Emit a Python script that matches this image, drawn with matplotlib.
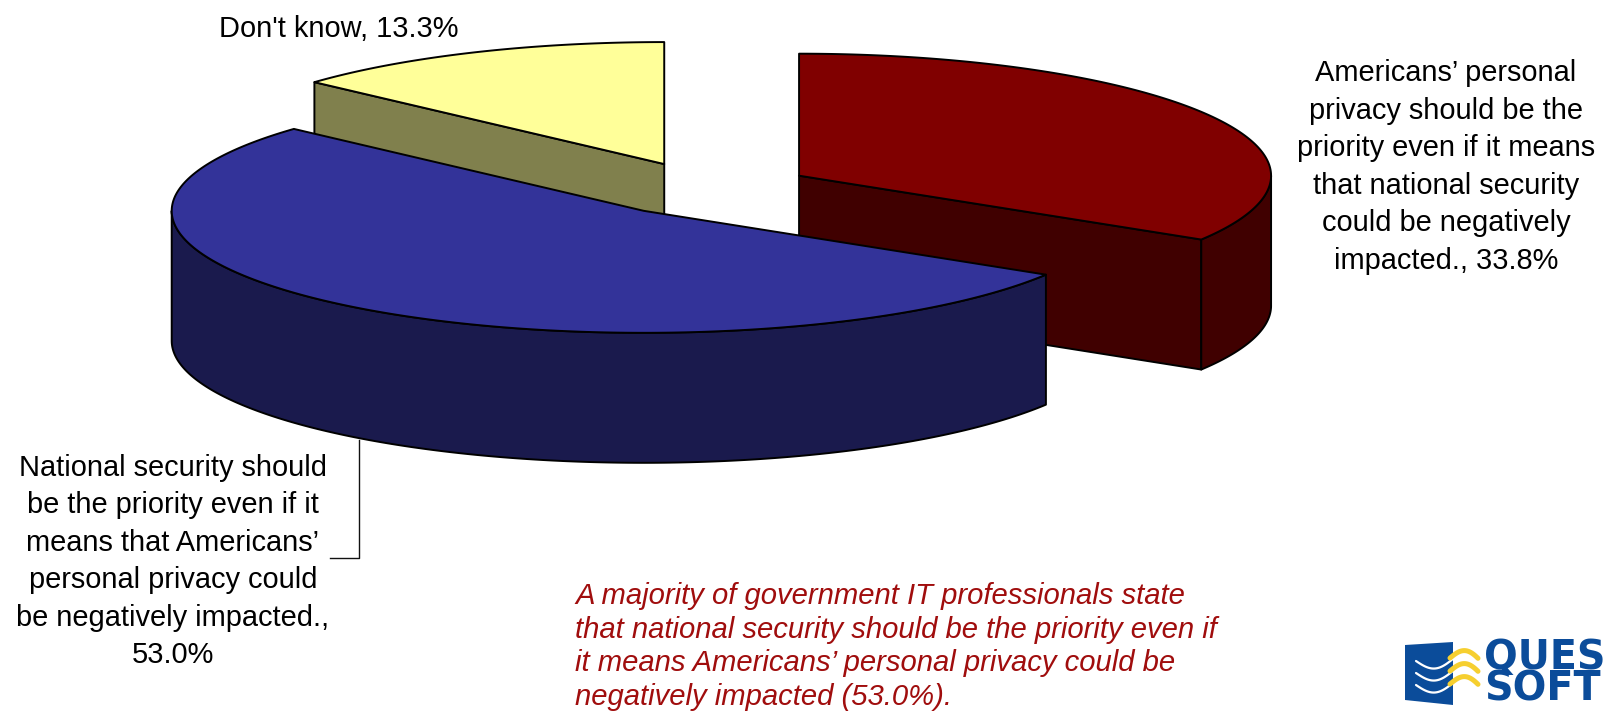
import numpy as np
import matplotlib
matplotlib.use("Agg")
import matplotlib.pyplot as plt
from matplotlib.patches import Polygon

plt.rcParams['font.family'] = ['Liberation Sans', 'DejaVu Sans']

# --- data ---
categories = ["Americans\u2019 personal\nprivacy should be the\npriority even if it means\nthat national security\ncould be negatively\nimpacted.",
              "National security should\nbe the priority even if it\nmeans that Americans\u2019\npersonal privacy could\nbe negatively impacted.",
              "Don't know"]
values = [33.8, 53.0, 13.3]
label_seps = [", ", ",\n", ", "]
top_colors = ["#800000", "#333399", "#FFFF99"]
side_colors = ["#400000", "#1A1A4D", "#80804D"]
note = ("A majority of government IT professionals state\n"
        "that national security should be the priority even if\n"
        "it means Americans\u2019 personal privacy could be\n"
        "negatively impacted (53.0%).")

# --- pie geometry (pixels) ---
CX, CY = 707, 189
RX, RY = 472, 122
DEPTH = 130
EXPLODE = 0.2235

W, H = 1604, 713
fig = plt.figure(figsize=(W / 100, H / 100), dpi=100, facecolor="white")
ax = fig.add_axes([0, 0, 1, 1])
ax.set_xlim(0, W)
ax.set_ylim(H, 0)
ax.axis("off")


def arc(cx, cy, t0, t1):
    t = np.radians(np.linspace(t0, t1, 240))
    return np.column_stack([cx + RX * np.sin(t), cy - RY * np.cos(t)])


def poly(pts, color, z):
    ax.add_patch(Polygon(pts, closed=True, facecolor=color, edgecolor="black",
                         linewidth=1.4, joinstyle="round", zorder=z))


total = sum(values)
edges = np.concatenate([[0], np.cumsum(values) / total * 360])
wedges = []
for i in range(len(values)):
    t0, t1 = edges[i], edges[i + 1]
    mid = np.radians((t0 + t1) / 2)
    cx = CX + EXPLODE * RX * np.sin(mid)
    cy = CY - EXPLODE * RY * np.cos(mid)
    wedges.append((i, t0, t1, cx, cy))

# back-to-front: don't know, then red, then blue
for z, idx in enumerate([2, 0, 1]):
    i, t0, t1, cx, cy = wedges[idx]
    base = 10 * (z + 1)
    down = np.array([0, DEPTH])
    apex = np.array([cx, cy])
    # radial faces that look toward the viewer
    for t in (t0, t1):
        e = arc(cx, cy, t, t)[0]
        if (i == 0 and t == t1) or (i == 2 and t == t0):
            poly([apex, e, e + down, apex + down], side_colors[i], base)
    # outer rim (only the front half of the ellipse is visible)
    lo, hi = max(t0, 90), min(t1, 270)
    if lo < hi:
        a = arc(cx, cy, lo, hi)
        poly(np.vstack([a, (a + down)[::-1]]), side_colors[i], base + 1)
    # top face
    poly(np.vstack([[apex], arc(cx, cy, t0, t1)]), top_colors[i], base + 2)

# --- data labels ---
FS = 20.9
LS = 1.435
label_pos = [(1446, 167), (173, 561.5), (339, 29)]
for cat, val, sep, (x, y) in zip(categories, values, label_seps, label_pos):
    ax.text(x, y, f"{cat}{sep}{val:.1f}%", ha="center", va="center",
            fontsize=FS, linespacing=LS, color="black", zorder=50)

# leader line for the National security label
ax.plot([359, 359, 330], [440, 557.5, 557.5], color="#111111", lw=1.0, zorder=5)

# --- note ---
ax.text(575, 646.5, note, ha="left", va="center", fontsize=21.1, style="italic",
        linespacing=1.27, color="#A00D0D", zorder=50)

# --- logo ---
LOGO_BLUE = "#0B4C9A"
ax.add_patch(Polygon([(1405, 645), (1453, 642), (1453, 705), (1405, 700)], closed=True,
                     facecolor=LOGO_BLUE, edgecolor="none", zorder=60))
u = np.linspace(0, 1, 40)
for dy in (0, 12, 24):
    x = 1416 + 38 * u
    y = 661 + dy + 9 * np.sin(np.pi * u) - 3 * u
    ax.plot(x, y, color="white", lw=1.6, solid_capstyle="round", zorder=61)
for dy in (0, 13, 26):
    x = 1450 + 28 * u
    y = 659 + dy - 10 * np.sin(np.pi * (u * 0.85 + 0.03)) + 3 * u
    ax.plot(x, y, color="#F6CF2F", lw=3.6, solid_capstyle="round", zorder=62)
ax.text(1484, 674, "QUES\nSOFT", fontsize=28.5, fontweight="bold", color=LOGO_BLUE,
        family="DejaVu Sans", ha="left", va="center", linespacing=0.74, zorder=60,
        clip_on=True)

fig.savefig("out.png", dpi=100, facecolor="white")
